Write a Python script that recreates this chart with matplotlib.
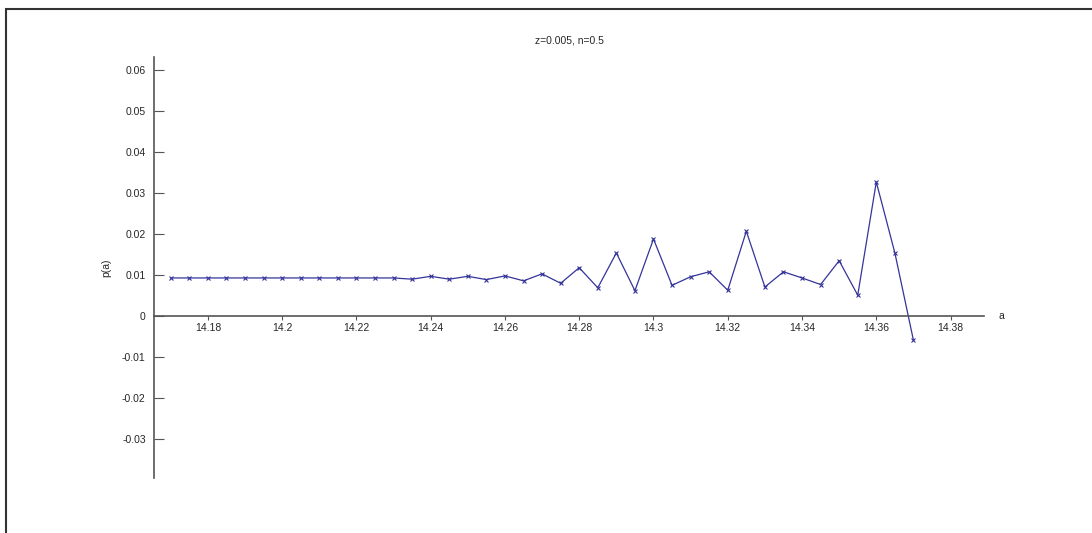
import numpy as np
import matplotlib
matplotlib.use("Agg")
import matplotlib.pyplot as plt
from matplotlib.patches import Rectangle
from matplotlib.ticker import FixedLocator, FuncFormatter

# values
a_vals = [14.17, 14.175, 14.18, 14.185, 14.19, 14.195, 14.2, 14.205, 14.21, 14.215,
          14.22, 14.225, 14.23, 14.235, 14.24, 14.245, 14.25, 14.255, 14.26, 14.265,
          14.27, 14.275, 14.28, 14.285, 14.29, 14.295, 14.3, 14.305, 14.31, 14.315,
          14.32, 14.325, 14.33, 14.335, 14.34, 14.345, 14.35, 14.355, 14.36, 14.365,
          14.37]
p_vals = [0.0093, 0.0093, 0.0093, 0.0093, 0.0093, 0.0093, 0.0093, 0.0093, 0.0093, 0.0093,
          0.0093, 0.0093, 0.0093, 0.0090, 0.0097, 0.0090, 0.0097, 0.0089, 0.0098, 0.0086,
          0.0103, 0.0080, 0.0118, 0.0069, 0.0154, 0.0062, 0.0188, 0.0075, 0.0096, 0.0108,
          0.0063, 0.0207, 0.0071, 0.0108, 0.0093, 0.0077, 0.0135, 0.0051, 0.0327, 0.0154,
          -0.0059]
x_ticks = [14.18, 14.2, 14.22, 14.24, 14.26, 14.28, 14.3, 14.32, 14.34, 14.36, 14.38]
y_ticks = [-0.03, -0.02, -0.01, 0, 0.01, 0.02, 0.03, 0.04, 0.05, 0.06]
title = "z=0.005, n=0.5"

plt.rcParams['font.family'] = ['Liberation Sans', 'DejaVu Sans']

W, H = 1092, 533
fig = plt.figure(figsize=(W / 100, H / 100), dpi=100)
fig.patch.set_facecolor('white')

# frame of the MATLAB window (only left and top edges show)
fig.add_artist(Rectangle((6 / W, -0.1), 1.2, (H - 9) / H + 0.1, transform=fig.transFigure,
                         fill=False, edgecolor='#333333', linewidth=1.5))

ax = fig.add_axes([154 / W, (H - 478) / H, (984 - 154) / W, (478 - 57) / H])
ax.plot(a_vals, p_vals, color='#34349a', linewidth=0.9, marker='x',
        markersize=3.5, markeredgewidth=0.8)

ax.set_xlim(14.1655, 14.389)
ax.set_ylim(-0.0395, 0.0632)

axis_col = '#555555'
text_col = '#262626'
for side in ['top', 'right']:
    ax.spines[side].set_visible(False)
ax.spines['bottom'].set_position(('data', 0))
for side in ['bottom', 'left']:
    ax.spines[side].set_color(axis_col)
    ax.spines[side].set_linewidth(1.2)

fmt = FuncFormatter(lambda v, pos: '%g' % round(v, 4))
ax.xaxis.set_major_locator(FixedLocator(x_ticks))
ax.yaxis.set_major_locator(FixedLocator(y_ticks))
ax.xaxis.set_major_formatter(fmt)
ax.yaxis.set_major_formatter(fmt)
ax.tick_params(axis='x', direction='out', length=3, width=0.8, color=axis_col,
               labelsize=7.5, pad=2, labelcolor=text_col)
ax.tick_params(axis='y', direction='in', length=7, width=0.8, color=axis_col,
               labelsize=7.5, pad=6, labelcolor=text_col)

ax.set_title(title, fontsize=7.5, color=text_col, pad=10)
ax.set_ylabel('p(a)', fontsize=7.5, color=text_col, labelpad=8)
# x label sits at the right end of the x axis, on the zero line
ax.text(1.017, 0, 'a', transform=ax.get_yaxis_transform(), fontsize=7.5,
        color=text_col, ha='left', va='center')

fig.savefig('out.png', dpi=100, facecolor='white')
